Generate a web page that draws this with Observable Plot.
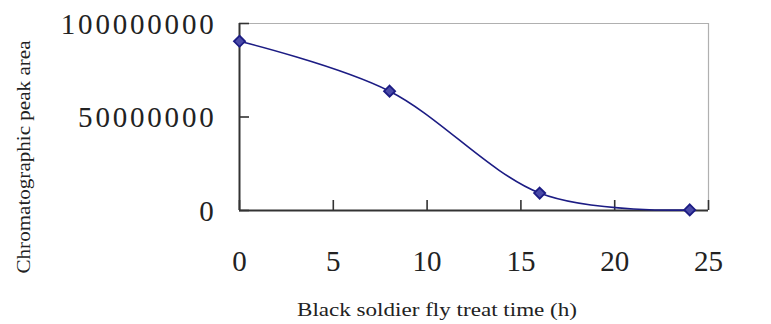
<!DOCTYPE html>
<html>
<head>
<meta charset="utf-8">
<script src="https://cdn.jsdelivr.net/npm/d3@7"></script>
<script src="https://cdn.jsdelivr.net/npm/@observablehq/plot@0.6"></script>
<style>
  html, body { margin: 0; padding: 0; background: #fff; }
  #chart { width: 771px; height: 324px; }
</style>
</head>
<body>
<div id="chart"></div>
<script>
// Treatment time (h) and chromatographic peak area
const hours = [0, 8, 16, 24];
const peakArea = [90500000, 63800000, 9300000, 300000];

const xTicks = [0, 5, 10, 15, 20, 25];
const yTicks = [0, 50000000, 100000000];

const rows = hours.map((h, i) => ({h, area: peakArea[i]}));

const serif = "'Liberation Serif', 'DejaVu Serif', serif";
const navy = "#1c1c84";

const chart = Plot.plot({
  width: 771,
  height: 324,
  marginLeft: 239,
  marginRight: 63,
  marginTop: 23,
  marginBottom: 114,
  style: {fontFamily: serif, background: "#fff", color: "#222"},
  x: {domain: [0, 25], label: null},
  y: {domain: [0, 100000000], label: null},
  marks: [
    // light top/right border
    Plot.ruleY([100000000], {stroke: "#b0b0b0", strokeWidth: 1.2}),
    Plot.ruleX([25], {stroke: "#b0b0b0", strokeWidth: 1.2}),
    // inward ticks
    Plot.axisX(xTicks, {tickSize: -10, tickFormat: () => "", label: null, stroke: "#333", strokeWidth: 1.6}),
    Plot.axisY(yTicks, {tickSize: -10, tickFormat: () => "", label: null, stroke: "#333", strokeWidth: 1.6}),
    // tick labels
    Plot.axisX(xTicks, {tickSize: 0, tickPadding: 40, fontSize: 29, tickFormat: d => String(d), label: null, fill: "#222"}),
    Plot.axisY(yTicks, {tickSize: 0, tickPadding: 23, fontSize: 29, dy: 1, tickFormat: d => String(d), label: null, fill: "#222"}),
    // dark left/bottom axis lines
    Plot.ruleY([0], {stroke: "#333", strokeWidth: 2}),
    Plot.ruleX([0], {stroke: "#333", strokeWidth: 2}),
    Plot.line(rows, {x: "h", y: "area", curve: "cardinal", tension: 0, stroke: navy, strokeWidth: 1.6}),
    Plot.dot(rows, {x: "h", y: "area", symbol: "diamond2", r: 5, stroke: navy, strokeWidth: 1.8, fill: "#4a4aa8"})
  ]
});

const wrap = document.getElementById("chart");
wrap.appendChild(chart);

const svg = d3.select(chart);
// wider digit spacing on the value labels
svg.selectAll("g[aria-label*='y-axis'] text").style("letter-spacing", "2.8px");

// axis titles
svg.append("text")
  .attr("x", 437).attr("y", 316)
  .attr("text-anchor", "middle")
  .attr("font-family", serif)
  .attr("font-size", 19)
  .attr("fill", "#222")
  .attr("textLength", 280)
  .attr("lengthAdjust", "spacingAndGlyphs")
  .text("Black soldier fly treat time (h)");

svg.append("text")
  .attr("transform", "translate(30,157) rotate(-90)")
  .attr("text-anchor", "middle")
  .attr("font-family", serif)
  .attr("font-size", 19)
  .attr("fill", "#222")
  .attr("textLength", 233)
  .attr("lengthAdjust", "spacingAndGlyphs")
  .text("Chromatographic peak area");
</script>
</body>
</html>
